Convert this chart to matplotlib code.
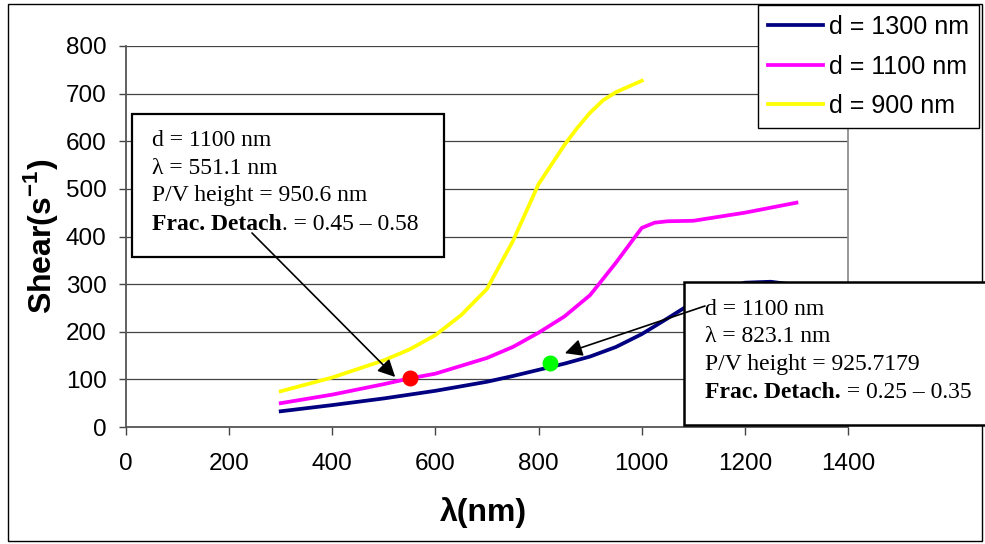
import matplotlib
matplotlib.use('Agg')
import matplotlib.pyplot as plt
from matplotlib.patches import Rectangle

# d = 1300 nm
lam_1300 = [300, 400, 500, 600, 700, 750, 800, 850, 900, 950, 1000, 1050, 1100, 1150, 1200, 1250, 1300]
shear_1300 = [33, 46, 60, 76, 95, 107, 120, 133, 148, 168, 195, 228, 262, 288, 303, 305, 298]
# d = 1100 nm
lam_1100 = [300, 400, 500, 550, 600, 700, 750, 800, 850, 900, 950, 1000, 1025, 1050, 1100, 1200, 1300]
shear_1100 = [50, 68, 90, 102, 112, 145, 168, 198, 232, 277, 345, 418, 429, 432, 433, 450, 471]
# d = 900 nm
lam_900 = [300, 400, 500, 550, 600, 650, 700, 750, 800, 850, 875, 900, 925, 950, 1000]
shear_900 = [75, 104, 140, 163, 193, 235, 290, 390, 510, 592, 628, 660, 686, 703, 727]

labels = ['d = 1300 nm', 'd = 1100 nm', 'd = 900 nm']
colors = ['#000080', '#FF00FF', '#FFFF00']

# highlighted points
pt_red = (551.1, 103)
pt_green = (823.1, 134)

xticks = [0, 200, 400, 600, 800, 1000, 1200, 1400]
yticks = [0, 100, 200, 300, 400, 500, 600, 700, 800]

W, H = 985, 544
plt.rcParams['font.family'] = ['Liberation Sans', 'DejaVu Sans']
plt.rcParams['mathtext.fontset'] = 'custom'
plt.rcParams['mathtext.rm'] = 'Liberation Sans'
plt.rcParams['mathtext.bf'] = 'Liberation Sans:bold'


def fp(x, y):
    # figure pixel (from top-left) -> figure fraction
    return (x / W, 1 - y / H)


fig = plt.figure(figsize=(W / 100, H / 100), dpi=100)
ax = fig.add_axes([126 / W, 1 - 427 / H, (848 - 126) / W, (427 - 46) / H])

ax.plot(lam_1300, shear_1300, color=colors[0], lw=2.7, label=labels[0], zorder=3)
ax.plot(lam_1100, shear_1100, color=colors[1], lw=2.7, label=labels[1], zorder=3)
ax.plot(lam_900, shear_900, color=colors[2], lw=2.7, label=labels[2], zorder=3)
ax.plot([pt_red[0]], [pt_red[1]], 'o', color='#FF0000', ms=10.5, zorder=4)
ax.plot([pt_green[0]], [pt_green[1]], 'o', color='#00FF00', ms=10.5, zorder=4)

ax.set_xlim(0, 1400)
ax.set_ylim(0, 800)
ax.set_xticks(xticks)
ax.set_yticks(yticks)
ax.tick_params(axis='y', labelsize=17.5, length=5, width=1, color='#444444', pad=9, direction='out')
ax.tick_params(axis='x', labelsize=17.5, length=5.5, width=1, color='#444444', pad=13, direction='out')
ax.yaxis.grid(True, color='#444444', lw=0.9)
ax.set_axisbelow(True)
ax.spines['top'].set_visible(False)
ax.spines['right'].set_color('#909090')
ax.spines['right'].set_linewidth(1.3)
for s in ['left', 'bottom']:
    ax.spines[s].set_color('#555555')
    ax.spines[s].set_linewidth(1.3)

fig.text(40 / W, 1 - 236 / H, r'Shear(s$^{\mathbf{-1}}$)', rotation=90, fontsize=23,
         fontweight='bold', ha='center', va='center')
fig.text(483 / W, 1 - 513 / H, 'λ(nm)', fontsize=23, fontweight='bold', ha='center', va='center')

leg = ax.legend(loc='upper right', bbox_to_anchor=fp(979, 5), bbox_transform=fig.transFigure,
                fontsize=18, frameon=True, fancybox=False, edgecolor='black', framealpha=1,
                handlelength=2.2, handletextpad=0.25, labelspacing=0.62, borderpad=0.4,
                borderaxespad=0)
leg.get_frame().set_linewidth(1.0)
leg.set_zorder(6)

# outer frame
ax.add_patch(Rectangle(fp(7.5, 541), (982 - 7.5) / W, (541 - 4) / H, transform=fig.transFigure,
                       fill=False, ec='black', lw=1.0, clip_on=False, zorder=1))

# annotation boxes
ax.add_patch(Rectangle(fp(132, 257), (444 - 132) / W, (257 - 114) / H, transform=fig.transFigure,
                       fc='white', ec='black', lw=1.6, clip_on=False, zorder=5))
ax.add_patch(Rectangle(fp(684, 425), (1000 - 684) / W, (425 - 282) / H, transform=fig.transFigure,
                       fc='white', ec='black', lw=1.8, clip_on=False, zorder=5))

serif = ['Liberation Serif', 'DejaVu Serif']


def note(x, ys, lines, bold, rest):
    for y, s in zip(ys, lines):
        ax.text(*fp(x, y), s, transform=fig.transFigure, family=serif, fontsize=17,
                va='baseline', ha='left', zorder=7)
    b = ax.text(*fp(x, ys[-1]), bold, transform=fig.transFigure, family=serif, fontsize=17,
                fontweight='bold', va='baseline', ha='left', zorder=7)
    ax.annotate(rest, xy=(1, 0), xycoords=b, family=serif, fontsize=17,
                va='bottom', ha='left', zorder=7, annotation_clip=False)


note(152, [146, 174, 201, 230.5], ['d = 1100 nm', 'λ = 551.1 nm', 'P/V height = 950.6 nm'],
     'Frac. Detach', '. = 0.45 – 0.58')
note(705, [315, 342.5, 370, 397.5], ['d = 1100 nm', 'λ = 823.1 nm', 'P/V height = 925.7179'],
     'Frac. Detach.', ' = 0.25 – 0.35')

arrow = dict(arrowstyle='-|>', color='black', lw=1.2, mutation_scale=26, shrinkA=0, shrinkB=0)
ax.annotate('', xy=(522, 105), xycoords='data', xytext=fp(252, 233), textcoords='figure fraction',
            arrowprops=arrow, zorder=8, annotation_clip=False)
ax.annotate('', xy=(851, 155), xycoords='data', xytext=fp(705, 306), textcoords='figure fraction',
            arrowprops=arrow, zorder=8, annotation_clip=False)

plt.savefig('out.png', dpi=100)
